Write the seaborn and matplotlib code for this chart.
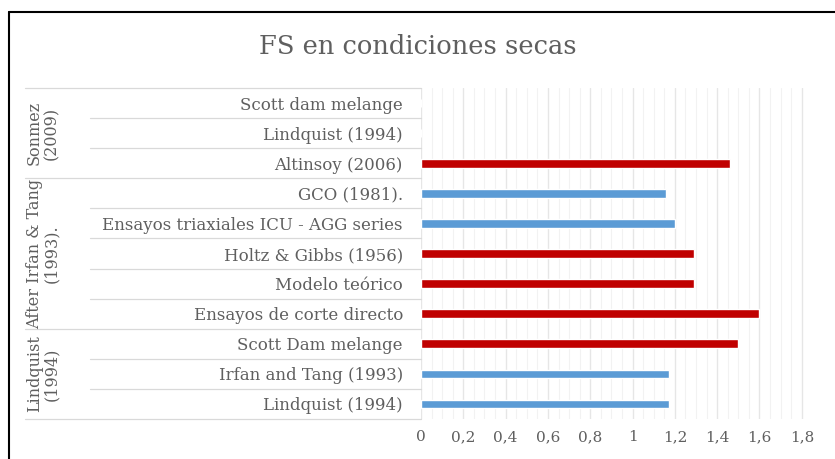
import matplotlib
matplotlib.use("Agg")
import matplotlib.pyplot as plt
import matplotlib.transforms as mtransforms
from matplotlib.lines import Line2D
import seaborn as sns
import pandas as pd
import numpy as np

# ---- data ----
categories = [
    "Scott dam melange",
    "Lindquist (1994)",
    "Altinsoy (2006)",
    "GCO (1981).",
    "Ensayos triaxiales ICU - AGG series",
    "Holtz & Gibbs (1956)",
    "Modelo teórico",
    "Ensayos de corte directo",
    "Scott Dam melange",
    "Irfan and Tang (1993)",
    "Lindquist (1994) ",
]
values = [0.0, 0.0, 1.46, 1.16, 1.20, 1.29, 1.29, 1.60, 1.50, 1.17, 1.17]
color_group = ["r", "r", "r", "b", "b", "r", "r", "r", "r", "b", "b"]
groups = ["Sonmez\n(2009)", "After Irfan & Tang\n(1993).", "Lindquist\n(1994)"]
group_sizes = [3, 5, 3]
x_ticks = [0, 0.2, 0.4, 0.6, 0.8, 1.0, 1.2, 1.4, 1.6, 1.8]
x_tick_labels = ["0", "0,2", "0,4", "0,6", "0,8", "1", "1,2", "1,4", "1,6", "1,8"]
title = "FS en condiciones secas"

df = pd.DataFrame({"cat": categories, "val": values, "grp": color_group})

sns.set_theme(style="white")
plt.rcParams["font.family"] = ["DejaVu Serif", "Liberation Serif"]
txt = "#5f5f5f"

W, H = 835, 459
fig = plt.figure(figsize=(W / 100, H / 100), dpi=100)
fig.patch.set_facecolor("white")

def fx(px):
    return px / W

def fy(py):
    return 1 - py / H

top_px, bot_px = 88, 419
ax = fig.add_axes([fx(421), fy(bot_px), fx(806) - fx(421), (bot_px - top_px) / H])

sns.barplot(data=df, y="cat", x="val", hue="grp", order=categories,
            palette={"r": "#C00000", "b": "#5B9BD5"}, dodge=False,
            width=0.29, orient="h", legend=False, ax=ax, saturation=1)

ax.set_xlim(0, 1.82)
ax.set_ylim(len(categories) - 0.5, -0.5)
ax.set_xticks(x_ticks)
ax.set_xticklabels(x_tick_labels, fontsize=11, color=txt)
ax.set_xticks(np.arange(0, 1.81, 0.05), minor=True)
ax.tick_params(axis="x", which="both", length=0, pad=8)
ax.tick_params(axis="y", length=0, pad=13)
ax.set_yticks(range(len(categories)))
ax.set_yticklabels([c.strip() for c in categories], fontsize=12, color=txt)
ax.set_xlabel("")
ax.set_ylabel("")
ax.grid(axis="x", which="major", color="#e6e6e6", linewidth=1.0)
ax.grid(axis="x", which="minor", color="#f2f2f2", linewidth=0.8)
ax.set_axisbelow(True)
for s in ax.spines.values():
    s.set_visible(False)

# category separators
trans = mtransforms.blended_transform_factory(fig.transFigure, ax.transData)
start = 0
group_edges = [-0.5]
for gs in group_sizes:
    start += gs
    group_edges.append(start - 0.5)
for b in np.arange(-0.5, len(categories), 1.0):
    x0 = fx(25) if b in group_edges else fx(90)
    ax.add_line(Line2D([x0, fx(421)], [b, b], transform=trans, color="#d9d9d9",
                       linewidth=0.9, clip_on=False))

# group labels
start = 0
for g, gs in zip(groups, group_sizes):
    center = start + (gs - 1) / 2
    ax.text(fx(43), center, g, transform=trans, rotation=90, ha="center",
            va="center", fontsize=11.5, color=txt, multialignment="center",
            linespacing=1.0)
    start += gs

fig.text(0.5, fy(47), title, ha="center", va="center", fontsize=18.5, color=txt)

# outer frame
fig.add_artist(Line2D([fx(9), 1], [fy(12), fy(12)], transform=fig.transFigure,
                      color="black", linewidth=1.5))
fig.add_artist(Line2D([fx(9), fx(9)], [fy(12), 0], transform=fig.transFigure,
                      color="black", linewidth=1.5))

fig.savefig("out.png", dpi=100, facecolor="white")
